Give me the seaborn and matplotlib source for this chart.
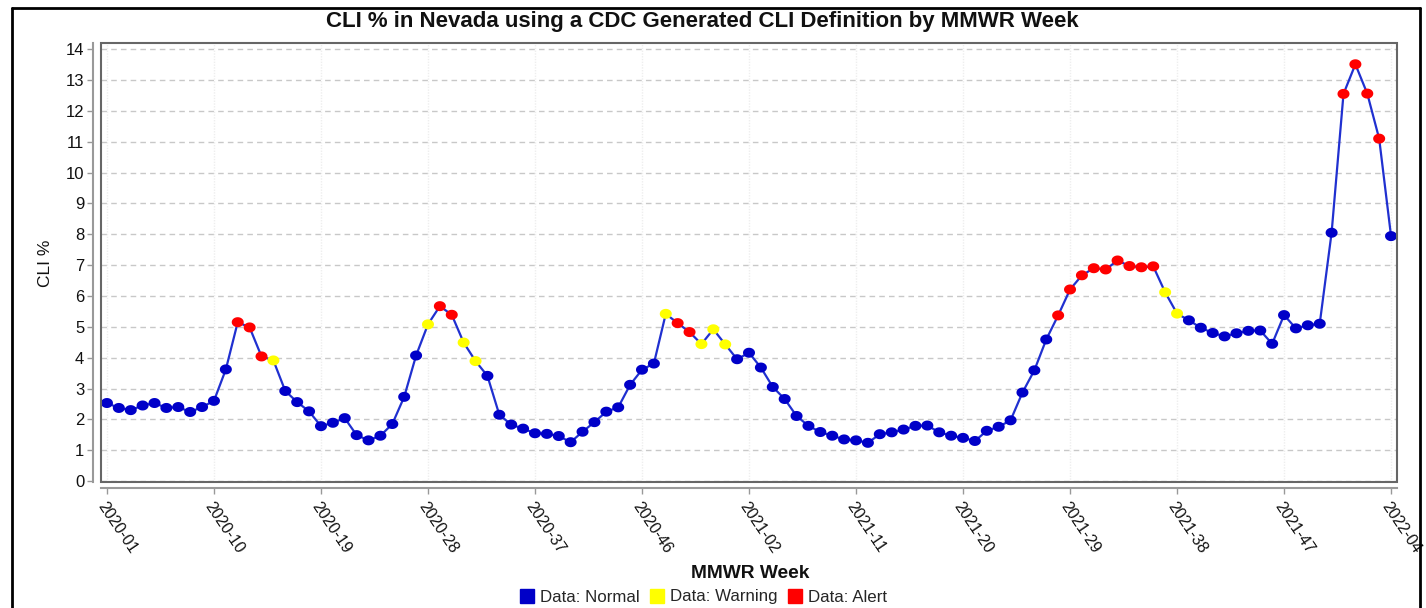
import numpy as np
import pandas as pd
import matplotlib
matplotlib.use('Agg')
import matplotlib.pyplot as plt
import matplotlib.transforms as mtransforms
from matplotlib.lines import Line2D
from matplotlib.patches import Rectangle
import seaborn as sns

# MMWR weeks: 2020 has 53 weeks, 2021 has 52, series runs to 2022-04
mmwr_years = [2020, 2021, 2022]
weeks_in_year = [53, 52, 4]

cli_pct = [2.53, 2.37, 2.30, 2.45, 2.53, 2.37, 2.40, 2.24, 2.40, 2.60,
           3.62, 5.15, 4.98, 4.04, 3.91, 2.92, 2.56, 2.26, 1.78, 1.89,
           2.04, 1.49, 1.32, 1.47, 1.85, 2.73, 4.07, 5.08, 5.67, 5.39,
           4.49, 3.89, 3.41, 2.15, 1.83, 1.70, 1.55, 1.53, 1.46, 1.26,
           1.60, 1.91, 2.25, 2.39, 3.12, 3.61, 3.81, 5.42, 5.12, 4.83,
           4.44, 4.92, 4.43, 3.95, 4.16, 3.68, 3.05, 2.66, 2.11, 1.79,
           1.59, 1.47, 1.35, 1.32, 1.24, 1.52, 1.58, 1.67, 1.79, 1.80,
           1.58, 1.47, 1.40, 1.30, 1.63, 1.76, 1.97, 2.87, 3.59, 4.59,
           5.37, 6.21, 6.67, 6.90, 6.86, 7.15, 6.97, 6.93, 6.96, 6.12,
           5.43, 5.21, 4.97, 4.80, 4.69, 4.79, 4.87, 4.88, 4.45, 5.38,
           4.95, 5.05, 5.10, 8.05, 12.55, 13.51, 12.56, 11.10, 7.94]

# N = normal, W = warning, A = alert (one character per week)
status_code = ("NNNNNNNNNN" "NAAAWNNNNN" "NNNNNNNWAA" "WWNNNNNNNN"
               "NNNNNNNWAA" "WWWNNNNNNN" "NNNNNNNNNN" "NNNNNNNNNN"
               "AAAAAAAAAW" "WNNNNNNNNN" "NNNNAAAAN")
status_names = {'N': 'Data: Normal', 'W': 'Data: Warning', 'A': 'Data: Alert'}
status_colors = {'Data: Normal': '#0000c8', 'Data: Warning': '#ffff00',
                 'Data: Alert': '#ff0000'}

week_labels = [f'{yr}-{wk:02d}' for yr, n in zip(mmwr_years, weeks_in_year)
               for wk in range(1, n + 1)]

df = pd.DataFrame({
    'idx': np.arange(len(cli_pct)),
    'week': week_labels,
    'cli': cli_pct,
    'status': [status_names[c] for c in status_code],
})

sns.set_style('white')
plt.rcParams['font.family'] = ['Liberation Sans', 'DejaVu Sans']

W, H = 1426, 608
fig = plt.figure(figsize=(W / 100, H / 100), dpi=100)
ax = fig.add_axes([101 / W, 1 - 482 / H, (1397 - 101) / W, (482 - 43) / H])

# horizontal dashed grid + faint vertical grid
for yv in range(0, 15):
    ax.axhline(yv, color='#c8c8c8', lw=1, ls=(0, (4, 3)), zorder=0)
tick_pos = list(range(0, len(cli_pct), 9))
for xv in tick_pos:
    ax.axvline(xv, color='#eeeeee', lw=1, ls=(0, (1, 1)), zorder=0)

sns.lineplot(data=df, x='idx', y='cli', color='#2030d0', linewidth=1.6,
             ax=ax, zorder=2)

t = np.linspace(0, 2 * np.pi, 40)
ellipse = np.column_stack([1.2 * np.cos(t), np.sin(t)])
sns.scatterplot(data=df, x='idx', y='cli', hue='status', palette=status_colors,
                marker=ellipse, s=75, linewidth=0, legend=False, ax=ax, zorder=3)

ax.set_xlim(-0.5, len(cli_pct) - 0.5)
ax.set_ylim(-0.03, 14.2)
ax.set_yticks(range(0, 15))
ax.set_xticks(tick_pos)
ax.set_xticklabels([week_labels[i] for i in tick_pos])
ax.set_xlabel('')
ax.set_ylabel('')

for side in ['top', 'right']:
    ax.spines[side].set_visible(False)
ax.spines['left'].set_position(('outward', 6))
ax.spines['bottom'].set_position(('outward', 4.5))
for side in ['left', 'bottom']:
    ax.spines[side].set_color('#999999')
    ax.spines[side].set_linewidth(1.5)
ax.add_patch(Rectangle((0, 0), 1, 1, transform=ax.transAxes, fill=False,
                       edgecolor='#666666', lw=1.5, clip_on=False, zorder=5))

ax.tick_params(axis='both', direction='out', length=4, width=1, color='#999999',
               labelsize=12, labelcolor='#111111', left=True, bottom=True)
ax.tick_params(axis='y', pad=2)
shift = mtransforms.ScaledTranslation(-0.06, -0.05, fig.dpi_scale_trans)
for lab in ax.get_xticklabels():
    lab.set_fontsize(11.5)
    lab.set_rotation(-56)
    lab.set_ha('left')
    lab.set_va('center')
    lab.set_rotation_mode('anchor')
    lab.set_transform(lab.get_transform() + shift)

fig.text(702 / W, 1 - 22 / H,
         'CLI % in Nevada using a CDC Generated CLI Definition by MMWR Week',
         ha='center', va='center', fontsize=16, fontweight='bold', color='#111111')
fig.text(46 / W, 1 - 263 / H, 'CLI %', rotation=90, ha='center', va='center',
         fontsize=12.5, color='#111111')
fig.text(750 / W, 1 - 573 / H, 'MMWR Week', ha='center', va='center',
         fontsize=13.8, fontweight='bold', color='#111111')

handles = [Line2D([], [], marker='s', ls='none', markersize=10,
                  markerfacecolor=c, markeredgecolor=c, label=lab)
           for lab, c in status_colors.items()]
fig.legend(handles=handles, loc='center', bbox_to_anchor=(703 / W, 1 - 597 / H),
           ncol=3, frameon=False, fontsize=12.2, handletextpad=0.3,
           columnspacing=0.6, handlelength=0.9)

# figure frame as in the source document
for xs, ys in [([12 / W, 12 / W], [0, 1 - 8 / H]),
               ([1420 / W, 1420 / W], [0, 1 - 8 / H]),
               ([12 / W, 1420 / W], [1 - 8 / H, 1 - 8 / H])]:
    fig.add_artist(Line2D(xs, ys, transform=fig.transFigure, color='black', lw=2))

fig.savefig('out.png', dpi=100)
plt.close()
